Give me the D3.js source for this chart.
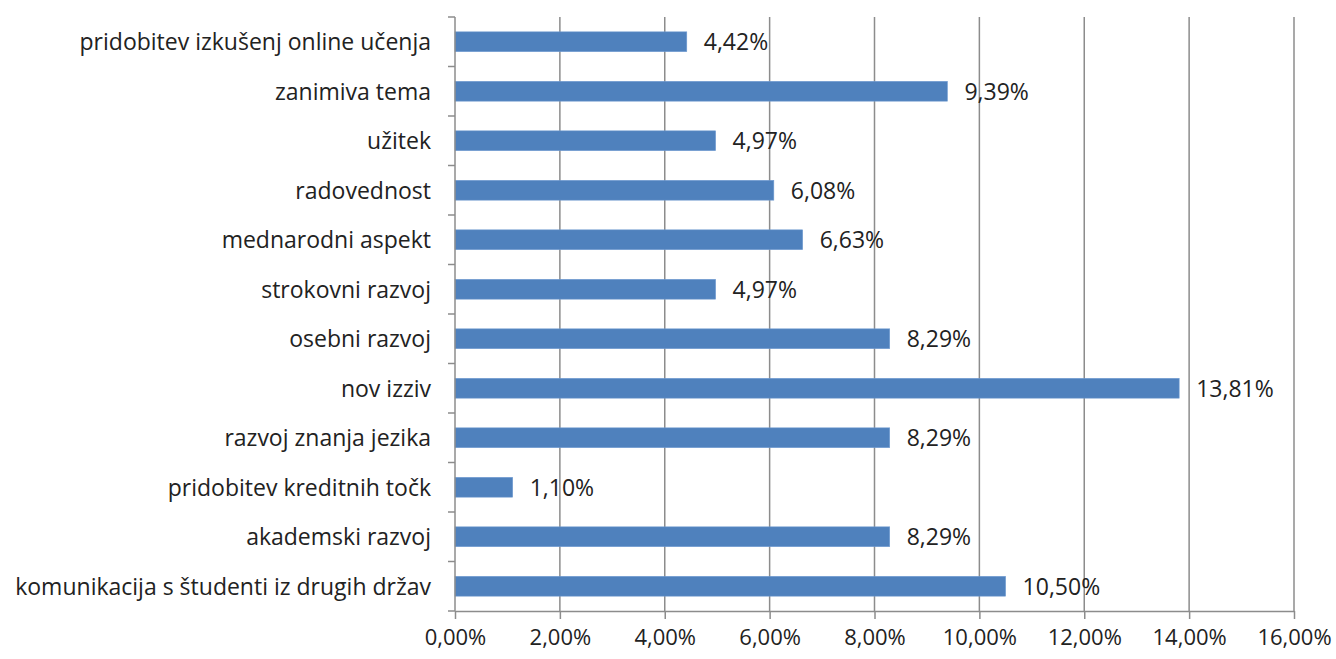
<!DOCTYPE html>
<html>
<head>
<meta charset="utf-8">
<script src="https://cdn.jsdelivr.net/npm/d3@7"></script>
<style>
  body { margin: 0; background: #fff; }
  text { font-family: "Open Sans", sans-serif; fill: #222; }
</style>
</head>
<body>
<div id="chart"></div>
<script>
const width = 1336;
const height = 659;
const margin = { top: 17, right: 42, bottom: 48, left: 455 };

// categories top to bottom
const categories = [
  "pridobitev izkušenj online učenja",
  "zanimiva tema",
  "užitek",
  "radovednost",
  "mednarodni aspekt",
  "strokovni razvoj",
  "osebni razvoj",
  "nov izziv",
  "razvoj znanja jezika",
  "pridobitev kreditnih točk",
  "akademski razvoj",
  "komunikacija s študenti iz drugih držav"
];
const values = [4.42, 9.39, 4.97, 6.08, 6.63, 4.97, 8.29, 13.81, 8.29, 1.10, 8.29, 10.50];
const xTicks = [0, 2, 4, 6, 8, 10, 12, 14, 16];

const data = categories.map((c, i) => ({ cat: c, value: values[i] }));
const fmt = v => d3.format(".2f")(v).replace(".", ",") + "%";

const svg = d3.select("#chart")
  .append("svg")
  .attr("width", width)
  .attr("height", height);

const xScale = d3.scaleLinear()
  .domain([0, 16])
  .range([margin.left, width - margin.right]);

const yScale = d3.scaleBand()
  .domain(categories)
  .range([margin.top, height - margin.bottom])
  .paddingInner(0.6)
  .paddingOuter(0.3);

const gridColor = "#8c8c8c";

// vertical gridlines
svg.append("g")
  .selectAll("line")
  .data(xTicks.slice(1))
  .join("line")
  .attr("x1", d => xScale(d))
  .attr("x2", d => xScale(d))
  .attr("y1", margin.top)
  .attr("y2", height - margin.bottom)
  .attr("stroke", gridColor)
  .attr("stroke-width", 1.5);

// bars
svg.append("g")
  .selectAll("rect")
  .data(data)
  .join("rect")
  .attr("x", xScale(0))
  .attr("y", d => yScale(d.cat))
  .attr("width", d => xScale(d.value) - xScale(0))
  .attr("height", yScale.bandwidth())
  .attr("fill", "#4f81bd")
  .attr("stroke", "#6f9bd1")
  .attr("stroke-width", 0.6);

// value labels
svg.append("g")
  .selectAll("text")
  .data(data)
  .join("text")
  .attr("x", d => xScale(d.value) + 17)
  .attr("y", d => yScale(d.cat) + yScale.bandwidth() / 2)
  .attr("dy", "0.36em")
  .attr("font-size", "23px")
  .text(d => fmt(d.value));

// y axis with boundary ticks
const step = yScale.step();
const yBounds = d3.range(categories.length + 1).map(i => margin.top + i * step);
const yAxis = svg.append("g");
yAxis.append("line")
  .attr("x1", xScale(0)).attr("x2", xScale(0))
  .attr("y1", margin.top).attr("y2", height - margin.bottom)
  .attr("stroke", gridColor).attr("stroke-width", 1.5);
yAxis.selectAll(".yt")
  .data(yBounds)
  .join("line")
  .attr("class", "yt")
  .attr("x1", xScale(0) - 7).attr("x2", xScale(0))
  .attr("y1", d => d).attr("y2", d => d)
  .attr("stroke", gridColor).attr("stroke-width", 1.5);
yAxis.selectAll(".yl")
  .data(categories)
  .join("text")
  .attr("class", "yl")
  .attr("x", xScale(0) - 24)
  .attr("y", d => yScale(d) + yScale.bandwidth() / 2)
  .attr("dy", "0.36em")
  .attr("text-anchor", "end")
  .attr("font-size", "23px")
  .text(d => d);

// x axis
const xAxis = svg.append("g")
  .attr("transform", `translate(0, ${height - margin.bottom})`)
  .call(d3.axisBottom(xScale).tickValues(xTicks).tickSize(8).tickSizeOuter(0).tickPadding(10)
    .tickFormat(d => fmt(d)));
xAxis.select(".domain").attr("stroke", gridColor).attr("stroke-width", 1.5);
xAxis.selectAll(".tick line").attr("stroke", gridColor).attr("stroke-width", 1.5);
xAxis.selectAll(".tick text")
  .attr("font-family", "Open Sans, sans-serif")
  .attr("font-size", "22px")
  .attr("fill", "#222");
</script>
</body>
</html>
